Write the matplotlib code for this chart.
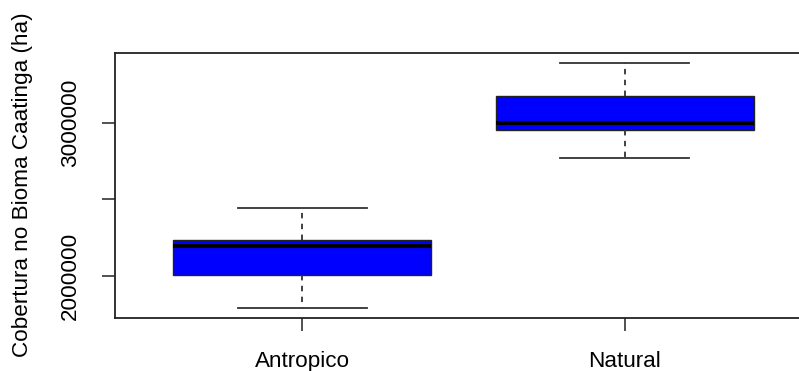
import matplotlib.pyplot as plt

# valores (boxplot do R)
categorias = ["Antropico", "Natural"]
whisker_baixo = [1789000, 2770000]
q1 = [2008000, 2952000]
mediana = [2196000, 3000000]
q3 = [2235000, 3174000]
whisker_alto = [2444000, 3389000]

y_ticks = [2000000, 2500000, 3000000]
y_ticklabels = ["2000000", "", "3000000"]

plt.rcParams['font.family'] = ['Liberation Sans', 'DejaVu Sans']
fs = 16.2

fig = plt.figure(figsize=(7.99, 3.71), dpi=100)
ax = fig.add_axes([115 / 799, 1 - 318.3 / 371, 697 / 799, 265.6 / 371])

stats = []
for i, nome in enumerate(categorias):
    stats.append({
        'label': nome,
        'whislo': whisker_baixo[i],
        'q1': q1[i],
        'med': mediana[i],
        'q3': q3[i],
        'whishi': whisker_alto[i],
        'fliers': [],
    })

ax.bxp(stats, positions=[1, 2], widths=0.8, patch_artist=True, showfliers=False,
       boxprops=dict(facecolor='#0000FF', edgecolor='#222222', linewidth=1.0),
       medianprops=dict(color='black', linewidth=3.0, solid_capstyle='butt'),
       whiskerprops=dict(color='#333333', linewidth=1.3, linestyle=(0, (3, 3))),
       capprops=dict(color='#333333', linewidth=1.3),
       capwidths=0.4)

ax.set_xlim(0.42, 2.58)
ax.set_ylim(1724100, 3456600)

ax.set_yticks(y_ticks)
ax.set_yticklabels(y_ticklabels, rotation=90, va='center', fontsize=fs)
ax.set_xticks([1, 2])
ax.set_xticklabels(categorias, fontsize=fs)
ax.tick_params(axis='both', length=9.6, width=1.2, color='#333333')
ax.tick_params(axis='x', pad=14)
ax.tick_params(axis='y', pad=15)

for s in ax.spines.values():
    s.set_linewidth(1.3)
    s.set_color('#222222')

ax.set_ylabel("Cobertura no Bioma Caatinga (ha)", fontsize=fs)
ax.yaxis.set_label_coords(-(115 - 22.7) / 697, (318.3 - 185) / 265.6, transform=ax.transAxes)
ax.yaxis.label.set_va('center')

fig.savefig("out.png", dpi=100)
